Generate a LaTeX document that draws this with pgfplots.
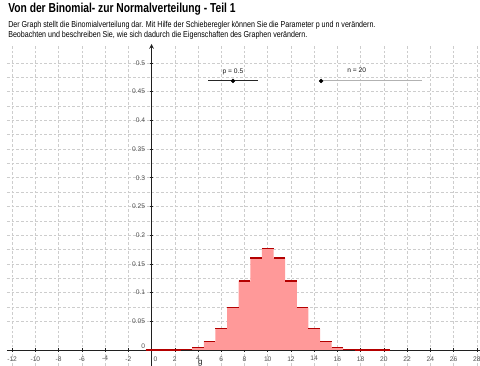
\documentclass[border=0pt]{standalone}
\usepackage{pgfplots}
\pgfplotsset{compat=1.18}
\usepackage{fontspec}
\setmainfont{Liberation Sans}
\usepackage{graphicx}

\definecolor{barfill}{RGB}{255,153,153}
\definecolor{baredge}{RGB}{180,0,0}
\definecolor{gridc}{RGB}{205,205,205}
\definecolor{ticktext}{RGB}{80,80,80}

\begin{document}
\begin{tikzpicture}
\useasboundingbox (0pt,0pt) rectangle (360pt,274.5pt);
\node[anchor=base west, inner sep=0pt] at (6pt,265pt) {\scalebox{0.79}[1]{\fontsize{9.75}{11}\selectfont\bfseries Von der Binomial- zur Normalverteilung - Teil 1}};
\node[anchor=base west, inner sep=0pt] at (6pt,253.5pt) {\scalebox{0.82}[1]{\fontsize{6.5}{7.5}\selectfont Der Graph stellt die Binomialverteilung dar. Mit Hilfe der Schieberegler können Sie die Parameter p und n verändern.}};
\node[anchor=base west, inner sep=0pt] at (6pt,246.5pt) {\scalebox{0.82}[1]{\fontsize{6.5}{7.5}\selectfont Beobachten und beschreiben Sie, wie sich dadurch die Eigenschaften des Graphen verändern.}};
\begin{axis}[
  at={(5.25pt,0pt)}, anchor=south west,
  scale only axis,
  width=354.75pt, height=241.5pt,
  xmin=-12.44, xmax=28.27,
  ymin=-0.0279, ymax=0.533,
  axis lines=middle,
  axis line style={gray!25!black, line width=0.6pt},
  x axis line style={-},
  y axis line style={-stealth},
  xtick={-12,-10,-8,-6,-4,-2,2,4,6,8,10,12,14,16,18,20,22,24,26,28},
  ytick={0.05,0.1,0.15,0.2,0.25,0.3,0.35,0.4,0.45,0.5},
  extra x ticks={0},
  extra x tick style={xticklabel style={xshift=3pt}, grid=none},
  extra y ticks={0},
  extra y tick style={yticklabel style={yshift=3pt}, grid=none},
  minor x tick num=1,
  minor y tick num=1,
  grid=both,
  grid style={gridc, dash pattern=on 2pt off 1.5pt, line width=0.4pt},
  major tick length=2.5pt,
  minor tick length=0pt,
  tick style={gray!25!black, line width=0.4pt},
  hide obscured x ticks=false,
  hide obscured y ticks=false,
  tick label style={font=\fontsize{5}{6}\selectfont, text=ticktext},
  /pgf/number format/assume math mode=true,
  /pgf/number format/fixed,
  /pgf/number format/precision=2,
  clip=false,
]
% Binomial distribution n=20, p=0.5 (bars from k-0.5 to k+0.5)
\addplot[fill=barfill, draw=none, const plot mark left] coordinates {
(-0.5,0.00000095) (0.5,0.0000191) (1.5,0.000181) (2.5,0.001087) (3.5,0.004621)
(4.5,0.014786) (5.5,0.036964) (6.5,0.073929) (7.5,0.120134) (8.5,0.160179)
(9.5,0.176197) (10.5,0.160179) (11.5,0.120134) (12.5,0.073929) (13.5,0.036964)
(14.5,0.014786) (15.5,0.004621) (16.5,0.001087) (17.5,0.000181) (18.5,0.0000191)
(19.5,0.00000095) (20.5,0.00000095)} \closedcycle;
\addplot[baredge, line width=1pt, jump mark left] coordinates {
(-0.5,0.00000095) (0.5,0.0000191) (1.5,0.000181) (2.5,0.001087) (3.5,0.004621)
(4.5,0.014786) (5.5,0.036964) (6.5,0.073929) (7.5,0.120134) (8.5,0.160179)
(9.5,0.176197) (10.5,0.160179) (11.5,0.120134) (12.5,0.073929) (13.5,0.036964)
(14.5,0.014786) (15.5,0.004621) (16.5,0.001087) (17.5,0.000181) (18.5,0.0000191)
(19.5,0.00000095) (20.5,0.00000095)};
% slider p
\addplot[gray!30!black, line width=0.7pt] coordinates {(4.86,0.4686) (9.17,0.4686)};
\addplot[only marks, mark=*, mark size=1.4pt, black] coordinates {(7.01,0.4686)};
\node[font=\fontsize{5}{6}\selectfont, text=gray!20!black] at (axis cs:7.01,0.485) {p = 0.5};
% slider n
\addplot[gray!60, line width=0.7pt] coordinates {(14.59,0.4686) (23.25,0.4686)};
\addplot[only marks, mark=*, mark size=1.4pt, black] coordinates {(14.59,0.4686)};
\node[font=\fontsize{5}{6}\selectfont, text=gray!20!black] at (axis cs:17.66,0.488) {n = 20};
\node[font=\fontsize{6}{7}\selectfont, text=gray!20!black, anchor=north, inner sep=0pt] at (axis cs:4.2,-0.0165) {g};
\end{axis}
\end{tikzpicture}
\end{document}
